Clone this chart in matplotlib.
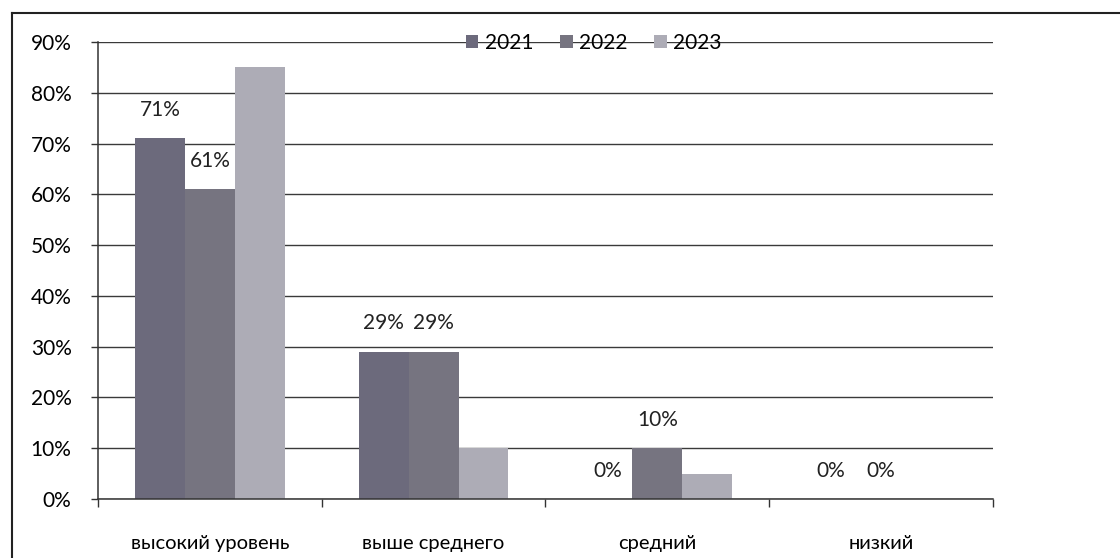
import numpy as np
import matplotlib.pyplot as plt
from matplotlib.lines import Line2D
from matplotlib.ticker import MultipleLocator, FixedLocator

plt.rcParams['font.family'] = ['Lato', 'DejaVu Sans']

categories = ['высокий уровень', 'выше среднего', 'средний', 'низкий']
years = ['2021', '2022', '2023']
v2021 = [71, 29, 0, 0]
v2022 = [61, 29, 10, 0]
v2023 = [85, 10, 5, 0]
colors = ['#6c6a7c', '#767480', '#adacb6']

fig = plt.figure(figsize=(11.2, 5.58), dpi=100)
ax = fig.add_axes([0.0875, 0.1057, 0.799, 0.819])

x = np.arange(len(categories))
w = 0.223
series = [v2021, v2022, v2023]
for i, (vals, yr, c) in enumerate(zip(series, years, colors)):
    bars = ax.bar(x + (i - 1) * w, vals, width=w, color=c, label=yr, zorder=2)
    # only the first two years carry data labels
    if i < 2:
        for b, v in zip(bars, vals):
            ax.text(b.get_x() + b.get_width() / 2, v + 5.6, f'{v}%',
                    ha='center', va='center', fontsize=15, color='#222222')

ax.set_ylim(0, 90)
ax.set_xlim(-0.5, len(categories) - 0.5)
ax.yaxis.set_major_locator(MultipleLocator(10))
ax.set_yticklabels([f'{int(t)}%' for t in ax.get_yticks()])
ax.grid(axis='y', color='#3a3a3a', linewidth=1.0, zorder=0)
ax.set_axisbelow(True)

ax.set_xticks(x)
ax.set_xticklabels(categories)
ax.xaxis.set_minor_locator(FixedLocator(np.arange(-0.5, len(categories), 1)))
ax.tick_params(axis='x', which='major', length=0, pad=26, labelsize=14.5)
ax.tick_params(axis='x', which='minor', length=6, width=1, color='#333333')
ax.tick_params(axis='y', length=5, width=1, color='#333333', labelsize=15, pad=14)

for s in ['top', 'right']:
    ax.spines[s].set_visible(False)
for s in ['left', 'bottom']:
    ax.spines[s].set_color('#333333')
    ax.spines[s].set_linewidth(1.1)

ax.legend(loc='center', bbox_to_anchor=(0.554, 0.998), ncol=3, frameon=False,
          fontsize=15, handlelength=0.6, handleheight=0.6, handletextpad=0.3,
          columnspacing=1.3)

# outer frame lines of the scanned chart
fig.add_artist(Line2D([12 / 1120, 1], [1 - 13 / 558] * 2, color='#222222', linewidth=1.5))
fig.add_artist(Line2D([12 / 1120] * 2, [0, 1 - 13 / 558], color='#222222', linewidth=1.5))

fig.savefig('out.png', dpi=100)
